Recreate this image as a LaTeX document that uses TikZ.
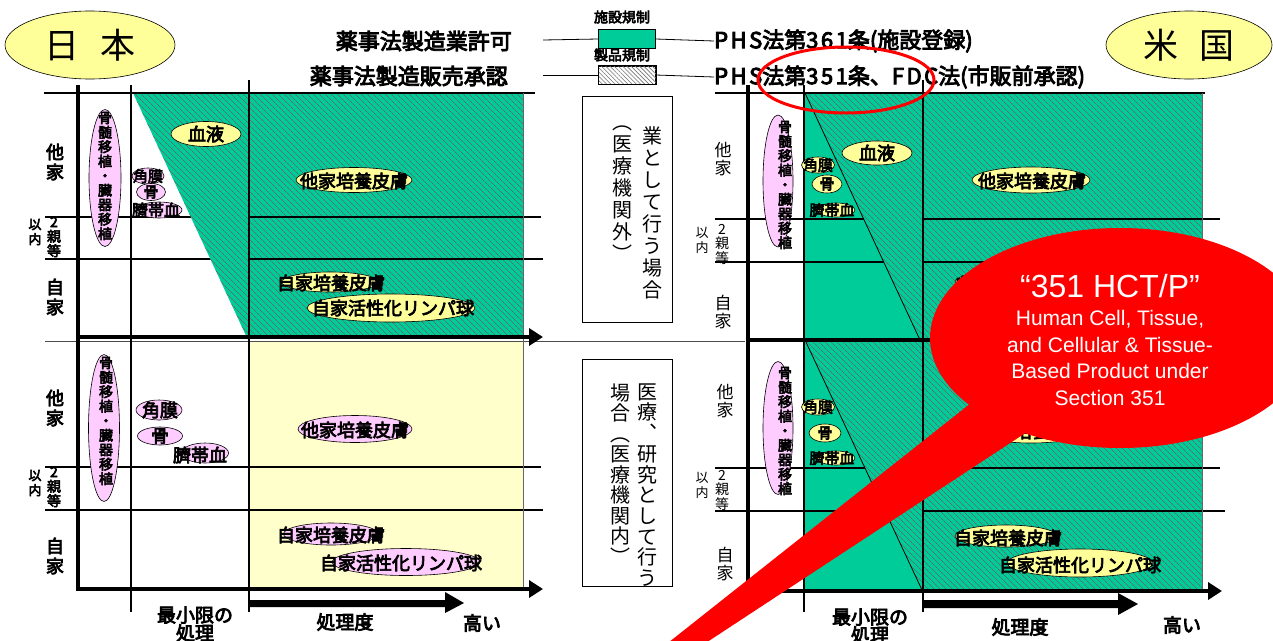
\documentclass[tikz,border=0pt]{standalone}
\usepackage{fontspec}
\setmainfont{Liberation Sans}
\newfontfamily\jp{Noto Sans CJK JP}
\newfontfamily\jpb{Noto Sans CJK JP}[FakeBold=4]
\usetikzlibrary{shapes.geometric,arrows.meta,patterns.meta}
\newcommand\fsz[2]{\fontsize{#1}{#2}\selectfont}
\definecolor{grn}{RGB}{0,204,153}
\definecolor{ylw}{RGB}{255,255,153}
\definecolor{pnk}{RGB}{255,204,255}
\definecolor{lylw}{RGB}{255,255,204}
\definecolor{hatchc}{RGB}{95,110,105}
\definecolor{rd}{RGB}{255,0,0}
\tikzset{
  hatchfill/.style={pattern={Lines[angle=-45,distance=4pt,line width=0.8pt]},pattern color=hatchc},
  oval/.style={shape=ellipse,draw=black,line width=0.6pt,inner sep=0pt},
  yov/.style={oval,fill=ylw},
  pov/.style={oval,fill=pnk},
  txt/.style={inner sep=0pt,align=center},
  bL/.style={txt,font=\jpb\fsz{18}{20}},
  bM/.style={txt,font=\jpb\fsz{15}{16}},
  rL/.style={txt,font=\jp\fsz{17}{18.5}},
  vtall/.style={txt,font=\jpb\fsz{14}{14.5}},
  nsmall/.style={txt,font=\jpb\fsz{13}{15}},
  nmid/.style={txt,font=\jpb\fsz{14}{14.5}},
  rsmall/.style={txt,font=\jp\fsz{13}{15}},
  rmid/.style={txt,font=\jp\fsz{14}{14.5}},
  big/.style={txt,font=\jpb\fsz{22}{24}},
  lgd/.style={txt,font=\jpb\fsz{14}{15}},
  gridl/.style={line width=1.6pt},
  vline/.style={line width=1.6pt},
  axis/.style={line width=4pt},
  axarrow/.style={line width=4pt,-{Triangle[length=14pt,width=17pt]}},
  edge/.style={line width=0.7pt,draw=black!60},
  boxt/.style={txt,font=\jp\fsz{20}{22}},
}
\newcommand\ks{\kern2.5pt}
\begin{document}
\begin{tikzpicture}[x=1pt,y=-1pt]
\useasboundingbox (0,0) rectangle (1273,640);
\clip (0,0) rectangle (1273,640);

% ---------- country ovals ----------
\node[yov,minimum width=170pt,minimum height=68pt,font=\jp\fsz{35}{36}] (japan) at (90,45) {日\hspace{22pt}本};
\node[yov,minimum width=166pt,minimum height=68pt,font=\jp\fsz{35}{36}] (usa) at (1189,45) {米\hspace{22pt}国};

% ---------- legend ----------
\node[lgd] (lgA) at (622,17) {施設規制};
\node[draw=black,line width=0.6pt,fill=grn,minimum width=57pt,minimum height=19pt,inner sep=0pt] (boxA) at (627,39) {};
\node[lgd] (lgB) at (622,55) {製品規制};
\node[draw=black,line width=0.6pt,fill=white,minimum width=57pt,minimum height=18pt,inner sep=0pt] (boxB) at (627,75) {};
\fill[pattern={Lines[angle=-45,distance=3pt,line width=0.6pt]},pattern color=black!55] (boxB.south west) rectangle (boxB.north east);
\draw[line width=0.6pt] (boxB.south west) rectangle (boxB.north east);
\node[big,anchor=east] (jA) at (512,41) {薬事法製造業許可};
\node[big,anchor=east] (jB) at (508,76) {薬事法製造販売承認};
\node[big,anchor=west] (uA) at (714,41) {P\ks H\ks S法第3\ks 6\ks 1条(施設登録)};
\node[big,anchor=west] (uB) at (714,77) {P\ks H\ks S法第3\ks 5\ks 1条、F\ks D\ks C法(市販前承認)};
\coordinate (lA) at (543,40);
\coordinate (lB) at (543,75);
\draw[line width=0.8pt] (lA) -- (boxA.west);
\draw[line width=0.8pt] (boxA.east) -- (uA.west);
\draw[line width=0.8pt] (lB) -- (boxB.west);
\draw[line width=0.8pt] (boxB.east) -- (uB.west);

% ---------- fills ----------
\fill[grn] (249,93) rectangle (523,337);
\fill[hatchfill] (249,93) rectangle (523,337);
\fill[lylw] (249,341) rectangle (523,589);
\fill[grn] (804,93) rectangle (1202,590);
\fill[hatchfill] (923,93) rectangle (1202,590);

% ---------- horizontal grid lines ----------
\draw[gridl] (45,217) -- (541,217);
\draw[gridl] (45,259) -- (543,259);
\draw[gridl] (45,467) -- (541,467);
\draw[gridl] (45,510) -- (543,510);
\draw[gridl] (715,219) -- (1220,219);
\draw[gridl] (715,262) -- (1220,262);
\draw[gridl] (715,468) -- (1220,468);
\draw[gridl] (715,511) -- (1225,511);
\draw[line width=1pt,draw=black!70] (45,341) -- (745,341);

% ---------- hatched triangles (cover the lines) ----------
\fill[grn] (133,93) -- (249,93) -- (249,342) -- cycle;
\fill[hatchfill] (133,93) -- (249,93) -- (249,342) -- cycle;
\fill[grn] (805,93) -- (923,93) -- (923,340) -- (920,340) -- cycle;
\fill[hatchfill] (805,93) -- (923,93) -- (923,340) -- (920,340) -- cycle;
\fill[grn] (805,340) -- (923,340) -- (923,590) -- (922,590) -- cycle;
\fill[hatchfill] (805,340) -- (923,340) -- (923,590) -- (922,590) -- cycle;
\draw[line width=0.8pt] (805,93) -- (920,340);
\draw[line width=0.8pt] (805,340) -- (922,590);

% ---------- frame lines ----------
\draw[line width=2pt] (44,93) -- (535,93);
\draw[line width=2pt] (715,93) -- (1205,93);
\draw[edge] (523,93) -- (523,589);
\draw[edge] (1202,93) -- (1202,590);
\draw[vline] (131,85) -- (131,612);
\draw[vline] (249,80) -- (249,612);
\draw[vline] (804,85) -- (804,612);
\draw[vline] (923,80) -- (923,612);
\draw[axis] (78,85) -- (78,590);
\draw[axis] (748,85) -- (748,592);
\draw[axarrow] (76,337) -- (543,337);
\draw[axarrow] (76,589) -- (543,589);
\draw[axarrow] (746,340) -- (1222,340);
\draw[axarrow] (746,591) -- (1222,591);
% processing-degree arrows
\fill (249,600) -- (445,600) -- (445,592) -- (464,603) -- (445,613) -- (445,607) -- (249,607) -- cycle;
\fill (923,600) -- (1118,600) -- (1118,593) -- (1138,604) -- (1118,615) -- (1118,608) -- (923,608) -- cycle;

% ---------- centre boxes ----------
\node[draw=black,line width=0.8pt,minimum width=90pt,minimum height=226pt,inner sep=0pt] (boxOut) at (627,209) {};
\node[boxt] (outR) at (652,213) {業\\と\\し\\て\\行\\う\\場\\合};
\node[boxt] (outL) at (622,194) {︵\\医\\療\\機\\関\\外\\︶};
\node[draw=black,line width=0.8pt,minimum width=90pt,minimum height=227pt,inner sep=0pt] (boxIn) at (627,473) {};
\node[boxt,font=\jp\fsz{20}{20.7}] (inR) at (647,485) {医\\療\\︑\\研\\究\\と\\し\\て\\行\\う};
\node[boxt,font=\jp\fsz{20}{20.5}] (inL) at (620,474) {場\\合\\︵\\医\\療\\機\\関\\内\\︶};

% ---------- left (Japan) axis labels ----------
\node[bL] (jTa) at (55,162) {他\\家};
\node[nsmall] (jIa) at (35,232) {以\\内};
\node[nmid] (jNa) at (54,237) {2\\親\\等};
\node[bL] (jJa) at (55,297) {自\\家};
\node[bL] (jTb) at (55,408) {他\\家};
\node[nsmall] (jIb) at (35,483) {以\\内};
\node[nmid] (jNb) at (54,487) {2\\親\\等};
\node[bL] (jJb) at (55,556) {自\\家};

% ---------- right (US) axis labels ----------
\node[rL] (uTa) at (723,159) {他\\家};
\node[rsmall] (uIa) at (702,240) {以\\内};
\node[rmid] (uNa) at (722,244) {2\\親\\等};
\node[rL] (uJa) at (723,312) {自\\家};
\node[rL] (uTb) at (725,401) {他\\家};
\node[rsmall] (uIb) at (702,485) {以\\内};
\node[rmid] (uNb) at (722,490) {2\\親\\等};
\node[rL] (uJb) at (725,564) {自\\家};

% ---------- Japan upper panel items ----------
\node[pov,minimum width=32pt,minimum height=137pt] (jBMa) at (105,178) {};
\node[vtall] at (105,176) {骨\\髄\\移\\植\\・\\臓\\器\\移\\植};
\node[pov,minimum width=32pt,minimum height=16pt] (jKa) at (148,176) {};
\node[bM] at (148,176) {角膜};
\node[pov,minimum width=29pt,minimum height=17pt] (jHa) at (151,192) {};
\node[bM] at (151,192) {骨};
\node[pov,minimum width=46pt,minimum height=16pt] (jSa) at (159,210) {};
\node[bM,font=\jpb\fsz{16}{17}] at (156,210) {臍帯血};
\node[yov,minimum width=70pt,minimum height=25pt,font=\jpb\fsz{18}{20}] (jBlood) at (206,134) {血液};
\node[yov,minimum width=116pt,minimum height=25pt] (jTSa) at (354,180) {};
\node[bL] at (354,181) {他家培養皮膚};
\node[yov,minimum width=97pt,minimum height=20pt] (jJSa) at (330,282) {};
\node[bL] at (331,283) {自家培養皮膚};
\node[yov,minimum width=168pt,minimum height=28pt] (jLa) at (391,308) {};
\node[bL] at (393,308) {自家活性化リンパ球};

% ---------- Japan lower panel items ----------
\node[pov,minimum width=31pt,minimum height=147pt] (jBMb) at (104,428) {};
\node[vtall] at (106,421) {骨\\髄\\移\\植\\・\\臓\\器\\移\\植};
\node[pov,minimum width=46pt,minimum height=20pt] (jKb) at (159,410) {};
\node[bL] at (160,410) {角膜};
\node[pov,minimum width=45pt,minimum height=18pt] (jHb) at (160,436) {};
\node[bL] at (160,436) {骨};
\node[pov,minimum width=47pt,minimum height=20pt] (jSb) at (205,453) {};
\node[bL] at (200,455) {臍帯血};
\node[pov,minimum width=114pt,minimum height=27pt] (jTSb) at (355,429) {};
\node[bL] at (355,430) {他家培養皮膚};
\node[pov,minimum width=95pt,minimum height=22pt] (jJSb) at (331,534) {};
\node[bL] at (331,535) {自家培養皮膚};
\node[pov,minimum width=148pt,minimum height=27pt] (jLb) at (406,562) {};
\node[bL] at (401,563) {自家活性化リンパ球};

% ---------- US upper panel items ----------
\node[pov,minimum width=30pt,minimum height=132pt] (uBMa) at (778,181) {};
\node[vtall] at (785,185) {骨\\髄\\移\\植\\・\\臓\\器\\移\\植};
\node[yov,minimum width=33pt,minimum height=16pt] (uKa) at (818,165) {};
\node[bM] at (818,165) {角膜};
\node[yov,minimum width=30pt,minimum height=18pt] (uHa) at (827,184) {};
\node[bM] at (827,184) {骨};
\node[yov,minimum width=38pt,minimum height=14pt] (uSa) at (836,210) {};
\node[bM] at (832,210) {臍帯血};
\node[yov,minimum width=70pt,minimum height=24pt,font=\jpb\fsz{18}{20}] (uBlood) at (877,153) {血液};
\node[yov,minimum width=118pt,minimum height=26pt] (uTSa) at (1031,180) {};
\node[bL] at (1032,181) {他家培養皮膚};
\node[yov,minimum width=102pt,minimum height=22pt] (uJSa) at (1006,282) {};
\node[bL] at (1008,284) {自家培養皮膚};

% ---------- US lower panel items ----------
\node[pov,minimum width=30pt,minimum height=133pt] (uBMb) at (778,428) {};
\node[vtall] at (785,431) {骨\\髄\\移\\植\\・\\臓\\器\\移\\植};
\node[yov,minimum width=33pt,minimum height=16pt] (uKb) at (818,407) {};
\node[bM] at (818,407) {角膜};
\node[yov,minimum width=32pt,minimum height=18pt] (uHb) at (825,433) {};
\node[bM] at (825,433) {骨};
\node[yov,minimum width=38pt,minimum height=14pt] (uSb) at (836,458) {};
\node[bM] at (832,458) {臍帯血};
\node[yov,minimum width=118pt,minimum height=26pt] (uTSb) at (1031,430) {};
\node[bL] at (1032,431) {他家培養皮膚};
\node[yov,minimum width=102pt,minimum height=22pt] (uJSb) at (1006,536) {};
\node[bL] at (1008,538) {自家培養皮膚};
\node[yov,minimum width=146pt,minimum height=28pt] (uLb) at (1080,563) {};
\node[bL] at (1080,565) {自家活性化リンパ球};

% ---------- bottom axis labels ----------
\node[bL,font=\jpb\fsz{19}{18}] (jMin) at (195,624) {最小限の\\処理};
\node[bL,font=\jpb\fsz{19}{20}] (jDeg) at (345,622) {処理度};
\node[bL,font=\jpb\fsz{19}{20}] (jHigh) at (482,623) {高い};
\node[bL,font=\jpb\fsz{19}{18}] (uMin) at (870,626) {最小限の\\処理};
\node[bL,font=\jpb\fsz{19}{20}] (uDeg) at (1020,627) {処理度};
\node[bL,font=\jpb\fsz{19}{20}] (uHigh) at (1182,625) {高い};

% ---------- red highlight ring ----------
\draw[rd,line width=3pt] (846,80) ellipse [x radius=88pt,y radius=33pt];

% ---------- red callout ----------
\fill[rd] (659,650) -- (990,388) -- (1030,430) -- (695,650) -- cycle;
\fill[rd] (1120,338) ellipse [x radius=190pt,y radius=110pt];
\node[txt,white,font=\fsz{32}{34}] (hctp) at (1110,286) {“351 HCT/P”};
\node[txt,white,font=\fsz{21}{26.7}] (hctpd) at (1110,358) {Human Cell, Tissue,\\and Cellular \& Tissue-\\Based Product under\\Section 351};
\end{tikzpicture}
\end{document}
